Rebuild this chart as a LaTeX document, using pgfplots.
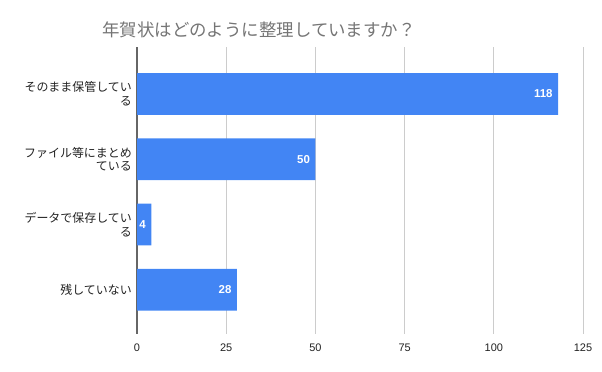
\documentclass[border=0pt]{standalone}
\usepackage{fontspec}
\setmainfont{Liberation Sans}
\newfontfamily\cjk{Noto Sans CJK JP}
\usepackage{pgfplots}
\pgfplotsset{compat=1.18}
\definecolor{barblue}{HTML}{4285F4}
\definecolor{titlegray}{HTML}{757575}
\definecolor{gridgray}{HTML}{CCCCCC}
\definecolor{axisgray}{HTML}{666666}
\definecolor{labelgray}{HTML}{222222}
\begin{document}
\begin{tikzpicture}
\useasboundingbox (0bp,0bp) rectangle (602bp,372bp);
\node[font=\cjk\fontsize{17.5}{20}\selectfont, text=titlegray, inner sep=0] at (259bp,342bp) {年賀状はどのように整理していますか？};
\begin{axis}[
  at={(137bp,38bp)}, anchor=south west,
  scale only axis, width=446bp, height=287bp,
  xbar, bar width=0.64,
  xmin=0, xmax=125, ymin=-0.72, ymax=3.68,
  enlargelimits=false,
  y dir=reverse,
  xtick={0,25,50,75,100,125},
  ytick={0,1,2,3},
  yticklabels={{そのまま保管してい\\る},{ファイル等にまとめ\\ている},{データで保存してい\\る},{残していない}},
  axis lines*=left,
  x axis line style={draw=none},
  y axis line style={draw=axisgray, line width=1.3bp},
  xmajorgrids, major grid style={draw=gridgray, line width=0.8bp},
  major tick length=0pt,
  /pgf/number format/assume math mode=true,
  xticklabel style={font=\fontsize{11}{13}\selectfont, text=labelgray, yshift=-6bp},
  yticklabel style={font=\cjk\fontsize{12}{14}\selectfont, text=labelgray, align=right, text width=115bp, inner xsep=0pt, xshift=-5bp},
  nodes near coords,
  every node near coord/.append style={anchor=east, xshift=-2bp, text=white, font=\bfseries\fontsize{11.5}{13}\selectfont},
]
\addplot[fill=barblue, draw=none] coordinates {(118,0) (50,1) (4,2) (28,3)};
\end{axis}
\end{tikzpicture}
\end{document}
